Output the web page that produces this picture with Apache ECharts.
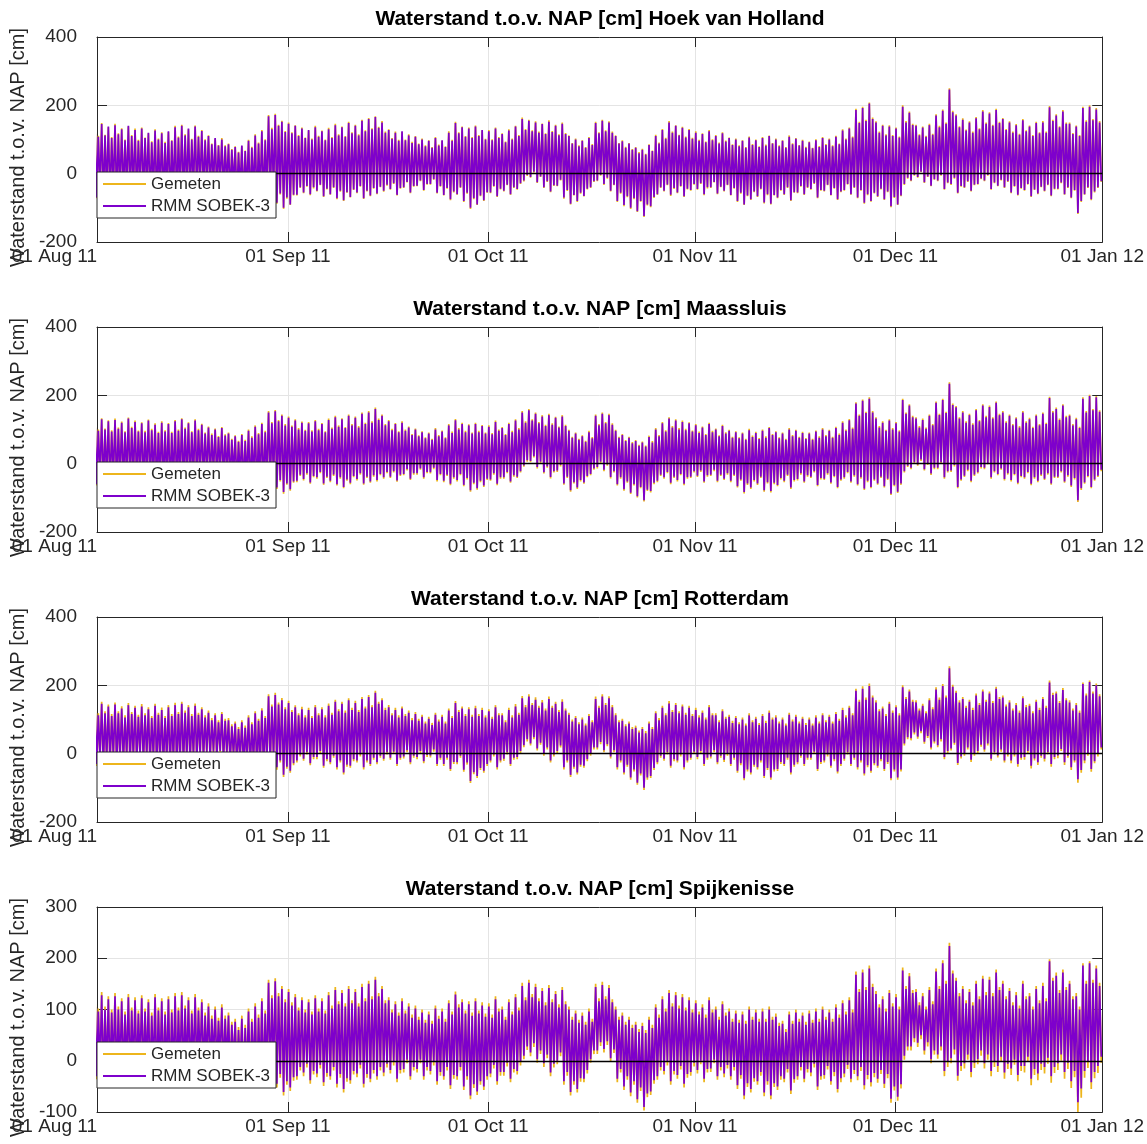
<!DOCTYPE html>
<html>
<head>
<meta charset="utf-8">
<script src="https://cdn.jsdelivr.net/npm/echarts@6/dist/echarts.min.js"></script>
<style>
  html, body { margin: 0; padding: 0; background: #ffffff; }
  #chart { width: 1147px; height: 1144px; }
</style>
</head>
<body>
<div id="chart"></div>
<script>
// Time base: days after 01 Aug 2011 00:00. Each array entry is one day.
// Per day two tides: Hi/Lo = first high and low water, Hi2/Lo2 = second
// high and low water (cm t.o.v. NAP).
const firstDay = 2;
const xStart = 2.4;
const xEnd = 153;
const monthTicks = [31, 61, 92, 122, 153];
const monthLabels = ['01 Sep 11', '01 Oct 11', '01 Nov 11', '01 Dec 11', '01 Jan 12'];
const startLabel = '01 Aug 11';

const stations = ['Hoek van Holland', 'Maassluis', 'Rotterdam', 'Spijkenisse'];
const seriesNames = ['Gemeten', 'RMM SOBEK-3'];

// ---- Hoek van Holland ----
const hvhModHi = [
  140,145,138,142,130,140,128,132,120,126,
  118,124,136,140,132,138,125,110,104,100,
  86,78,82,96,112,124,168,172,152,146,
  140,132,128,136,124,130,142,136,148,140,
  155,160,166,150,128,120,124,112,108,100,
  96,104,98,120,148,136,132,138,128,124,
  132,116,126,138,160,155,150,145,152,140,
  146,110,100,96,104,148,155,150,110,95,
  88,76,70,84,110,128,150,140,134,128,
  120,116,124,110,118,104,100,96,106,98,
  104,110,100,96,108,102,96,92,98,104,
  100,108,126,132,186,192,205,150,140,138,
  132,196,178,140,135,142,170,184,246,170,
  158,150,162,182,176,186,160,150,142,156,
  138,148,150,194,170,182,146,138,192,196,
  188
];
const hvhModLo = [
  -70,-75,-68,-72,-60,-65,-58,-62,-70,-76,
  -72,-80,-74,-68,-62,-55,-50,-48,-45,-52,
  -58,-66,-72,-80,-85,-78,-70,-85,-100,-90,
  -62,-55,-60,-50,-66,-60,-72,-78,-68,-55,
  -72,-64,-58,-50,-45,-62,-40,-55,-35,-48,
  -30,-56,-62,-75,-60,-80,-100,-90,-78,-55,
  -66,-50,-60,-45,-20,-10,-25,-40,-52,-35,
  -70,-88,-80,-65,-40,-20,-30,-50,-80,-92,
  -100,-110,-124,-95,-60,-50,-62,-55,-66,-48,
  -45,-60,-40,-58,-50,-62,-80,-90,-75,-66,
  -84,-88,-70,-60,-78,-55,-60,-45,-70,-50,
  -62,-75,-48,-60,-70,-85,-80,-66,-75,-95,
  -90,-30,-20,-10,-25,-35,-20,-45,-30,-56,
  -40,-50,-30,-20,-45,-35,-40,-55,-62,-48,
  -66,-58,-50,-64,-44,-60,-70,-115,-60,-75,
  -40
];
const hvhModHi2 = [
  108,112,104,115,98,110,96,104,92,100,
  90,96,106,112,100,108,98,86,82,80,
  70,62,66,76,88,98,130,140,122,118,
  110,104,100,108,98,104,112,108,118,112,
  124,130,134,120,102,96,98,90,86,80,
  76,82,78,96,118,108,104,110,100,98,
  104,92,100,110,128,124,120,116,122,112,
  116,88,80,76,84,118,124,120,88,76,
  70,60,56,66,88,102,120,112,106,102,
  96,92,98,88,94,84,80,76,84,78,
  82,88,80,76,86,82,76,74,78,84,
  80,86,100,106,148,154,160,120,112,110,
  106,150,142,112,108,114,136,146,180,136,
  126,120,130,146,140,148,128,120,114,124,
  110,118,120,154,136,146,116,110,152,156,
  150
];
const hvhModLo2 = [
  -48,-52,-45,-50,-40,-44,-38,-42,-48,-54,
  -50,-56,-52,-46,-42,-36,-32,-30,-28,-34,
  -38,-44,-50,-56,-60,-54,-46,-58,-70,-62,
  -40,-36,-40,-32,-44,-40,-50,-54,-46,-36,
  -50,-42,-38,-32,-28,-42,-24,-36,-20,-30,
  -16,-36,-42,-52,-40,-56,-72,-64,-54,-36,
  -44,-32,-40,-28,-4,6,-8,-22,-34,-18,
  -48,-62,-56,-44,-22,-4,-12,-32,-56,-66,
  -72,-80,-90,-68,-40,-32,-42,-36,-44,-30,
  -28,-40,-24,-38,-32,-42,-56,-64,-52,-44,
  -60,-62,-48,-40,-54,-36,-40,-28,-48,-32,
  -42,-52,-30,-40,-48,-60,-56,-44,-52,-68,
  -64,-12,-4,6,-8,-16,-4,-26,-12,-36,
  -22,-32,-14,-4,-26,-18,-22,-36,-42,-30,
  -46,-38,-32,-44,-26,-40,-48,-80,-40,-52,
  -22
];
const hvhObsHi = [
  144,148,136,146,133,138,132,135,118,130,
  121,122,140,143,130,141,128,112,102,104,
  88,80,80,99,115,128,172,175,155,150,
  142,135,126,140,126,134,146,138,152,143,
  158,163,168,154,130,123,122,115,110,103,
  98,107,96,124,152,138,135,141,126,128,
  135,118,130,140,164,158,153,147,156,143,
  150,112,103,98,107,152,158,153,112,98,
  90,78,73,86,114,131,154,142,137,131,
  124,118,128,113,121,106,103,98,109,100,
  107,112,103,98,112,104,99,94,101,107,
  103,111,130,135,190,196,208,153,143,142,
  135,200,182,143,138,146,174,188,250,174,
  162,153,166,186,180,190,163,153,145,160,
  141,152,154,198,174,186,150,141,196,200,
  192
];
const hvhObsLo = [
  -72,-76,-70,-74,-62,-66,-60,-64,-72,-78,
  -74,-82,-76,-70,-64,-57,-52,-50,-47,-54,
  -60,-68,-74,-82,-87,-80,-72,-88,-103,-92,
  -64,-57,-63,-52,-68,-62,-75,-80,-70,-57,
  -74,-66,-60,-53,-47,-64,-42,-57,-37,-50,
  -32,-58,-64,-78,-62,-83,-103,-92,-80,-57,
  -68,-52,-62,-47,-23,-12,-27,-42,-54,-37,
  -73,-90,-83,-67,-42,-22,-33,-52,-83,-95,
  -103,-112,-127,-98,-62,-52,-65,-57,-68,-50,
  -47,-63,-42,-60,-52,-64,-83,-92,-77,-68,
  -87,-90,-72,-62,-80,-57,-62,-47,-72,-52,
  -64,-77,-50,-62,-72,-88,-82,-68,-77,-98,
  -92,-33,-22,-12,-27,-37,-22,-47,-33,-58,
  -42,-52,-32,-22,-47,-37,-42,-57,-64,-50,
  -68,-60,-52,-66,-46,-62,-72,-118,-62,-78,
  -42
];
const hvhObsHi2 = [
  111,114,107,118,100,113,99,106,95,103,
  93,98,109,115,102,111,101,88,84,83,
  72,64,68,79,91,101,134,143,125,121,
  113,106,103,111,100,107,115,110,121,115,
  127,133,137,123,104,99,100,93,88,83,
  78,85,80,99,121,110,107,113,102,101,
  107,94,103,113,131,127,123,118,125,115,
  119,90,83,78,87,121,127,123,90,79,
  72,63,58,68,91,105,123,114,109,105,
  99,94,101,91,97,86,83,78,87,80,
  85,90,83,78,89,84,79,76,81,87,
  83,88,103,109,152,158,164,123,115,113,
  109,154,146,115,111,117,140,150,184,139,
  129,123,133,150,143,152,131,123,117,127,
  113,121,123,158,139,150,119,113,156,160,
  154
];
const hvhObsLo2 = [
  -50,-54,-47,-52,-42,-46,-40,-44,-50,-56,
  -52,-58,-54,-48,-44,-38,-34,-32,-30,-36,
  -40,-46,-52,-58,-62,-56,-48,-61,-73,-64,
  -42,-38,-43,-34,-46,-42,-53,-56,-48,-38,
  -52,-44,-40,-35,-30,-44,-26,-38,-22,-32,
  -18,-38,-44,-55,-42,-59,-75,-66,-56,-38,
  -46,-34,-42,-30,-7,3,-10,-24,-36,-20,
  -51,-64,-59,-46,-24,-6,-15,-34,-59,-69,
  -75,-82,-93,-71,-42,-34,-45,-38,-46,-32,
  -30,-43,-26,-40,-34,-44,-59,-66,-54,-46,
  -63,-64,-50,-42,-56,-38,-42,-30,-50,-34,
  -44,-54,-32,-42,-50,-63,-58,-46,-54,-71,
  -66,-15,-6,4,-10,-18,-6,-28,-15,-38,
  -24,-34,-16,-6,-28,-20,-24,-38,-44,-32,
  -48,-40,-34,-46,-28,-42,-50,-83,-42,-55,
  -24
];

// ---- Maassluis ----
const mslModHi = [
  125,130,124,128,120,132,122,118,126,114,
  120,116,124,130,118,126,114,106,100,104,
  88,80,84,96,108,116,150,153,140,134,
  126,120,118,124,116,128,136,130,140,134,
  146,150,160,140,124,116,120,106,100,92,
  88,100,94,112,127,116,112,116,110,108,
  122,104,116,126,150,156,146,138,142,134,
  138,96,88,80,92,140,146,142,96,84,
  76,66,62,78,100,118,132,126,122,118,
  112,106,116,100,110,96,92,88,98,90,
  96,104,92,88,100,96,90,88,94,100,
  96,104,120,127,176,184,190,132,120,126,
  118,186,170,132,128,140,178,186,234,165,
  150,142,156,170,166,178,150,140,132,150,
  130,140,146,192,160,170,140,130,190,198,
  194
];
const mslModLo = [
  -60,-65,-58,-62,-55,-60,-52,-56,-62,-68,
  -64,-70,-66,-60,-55,-50,-45,-42,-40,-46,
  -52,-58,-64,-70,-75,-68,-62,-70,-83,-75,
  -50,-45,-55,-40,-58,-50,-60,-68,-56,-45,
  -58,-52,-48,-40,-38,-49,-30,-44,-28,-40,
  -25,-48,-50,-59,-48,-62,-78,-72,-64,-46,
  -59,-40,-52,-38,-5,8,-10,-25,-39,-20,
  -58,-78,-70,-55,-30,-10,-18,-39,-60,-75,
  -85,-95,-107,-80,-50,-40,-56,-48,-59,-38,
  -35,-52,-32,-50,-44,-50,-66,-83,-70,-58,
  -78,-80,-62,-50,-70,-45,-52,-38,-62,-44,
  -55,-68,-40,-52,-60,-73,-68,-58,-66,-88,
  -82,-22,-12,-2,-16,-29,-12,-40,-20,-68,
  -35,-50,-25,-12,-40,-30,-45,-48,-56,-40,
  -59,-50,-44,-58,-38,-52,-64,-107,-55,-68,
  -35
];
const mslModHi2 = [
  96,100,94,102,92,104,94,92,98,90,
  94,90,96,102,92,98,88,84,78,82,
  70,64,66,76,86,92,118,124,112,108,
  100,96,94,98,92,102,108,104,112,106,
  116,120,128,112,98,92,96,84,80,74,
  70,80,74,90,100,92,88,92,88,86,
  96,84,92,100,120,126,118,110,114,106,
  110,76,70,64,74,112,118,114,76,66,
  60,52,50,62,80,94,106,100,98,94,
  90,84,92,80,88,76,74,70,78,72,
  76,84,74,70,80,76,72,70,76,80,
  76,84,96,102,140,148,150,106,96,100,
  94,146,136,106,102,112,142,148,172,132,
  120,114,124,136,132,142,120,112,106,120,
  104,112,116,150,128,136,112,104,150,156,
  152
];
const mslModLo2 = [
  -40,-44,-38,-42,-36,-40,-34,-37,-42,-46,
  -44,-48,-45,-40,-36,-32,-28,-25,-24,-28,
  -34,-38,-44,-48,-52,-46,-40,-48,-58,-52,
  -32,-28,-36,-24,-38,-32,-40,-46,-36,-28,
  -38,-34,-30,-24,-22,-32,-16,-28,-14,-24,
  -12,-30,-32,-40,-30,-42,-56,-50,-44,-28,
  -40,-24,-34,-22,10,22,6,-8,-22,-4,
  -38,-54,-48,-36,-14,6,-2,-22,-40,-52,
  -60,-68,-76,-56,-32,-24,-38,-30,-40,-22,
  -20,-34,-18,-32,-28,-32,-46,-58,-48,-38,
  -54,-56,-42,-32,-48,-28,-34,-22,-42,-28,
  -36,-46,-24,-34,-40,-50,-46,-38,-44,-62,
  -58,-6,4,12,0,-12,4,-22,-4,-46,
  -18,-32,-10,2,-22,-14,-28,-30,-36,-24,
  -40,-32,-28,-38,-22,-34,-42,-72,-36,-46,
  -18
];
const mslObsHi = [
  129,133,127,132,123,135,126,121,129,118,
  124,119,128,133,121,130,117,109,103,107,
  91,83,87,100,112,120,154,157,144,138,
  130,123,122,128,119,132,140,133,144,138,
  150,154,164,144,128,119,124,109,103,95,
  91,104,97,116,131,120,115,120,113,112,
  126,107,120,130,154,160,150,142,146,137,
  142,99,91,83,96,144,150,146,99,87,
  79,69,65,82,104,122,136,130,126,121,
  116,109,120,103,114,99,95,91,102,93,
  100,107,95,91,104,99,93,91,97,104,
  99,108,124,131,180,188,194,136,124,130,
  122,190,174,136,132,144,182,190,238,169,
  154,146,160,174,170,182,154,144,136,154,
  134,144,150,196,164,174,144,134,194,202,
  198
];
const mslObsLo = [
  -64,-69,-62,-66,-59,-64,-56,-60,-66,-72,
  -68,-74,-70,-64,-59,-54,-49,-46,-44,-50,
  -56,-62,-68,-74,-79,-72,-66,-74,-88,-79,
  -54,-49,-59,-44,-62,-54,-64,-72,-60,-49,
  -62,-56,-52,-44,-42,-53,-34,-48,-32,-44,
  -29,-52,-54,-63,-52,-66,-82,-76,-68,-50,
  -63,-44,-56,-42,-9,4,-14,-29,-43,-24,
  -62,-82,-74,-59,-34,-14,-22,-43,-64,-79,
  -89,-99,-111,-84,-54,-44,-60,-52,-63,-42,
  -39,-56,-36,-54,-48,-54,-70,-87,-74,-62,
  -82,-84,-66,-54,-74,-49,-56,-42,-66,-48,
  -59,-72,-44,-56,-64,-77,-72,-62,-70,-92,
  -86,-26,-16,-6,-20,-33,-16,-44,-24,-72,
  -39,-54,-29,-16,-44,-34,-49,-52,-60,-44,
  -63,-54,-48,-62,-42,-56,-68,-112,-59,-72,
  -39
];
const mslObsHi2 = [
  100,103,98,106,95,108,97,96,102,93,
  98,93,100,106,95,102,91,88,81,86,
  73,67,70,80,90,96,122,128,116,112,
  104,99,98,102,95,106,112,107,116,110,
  120,124,132,116,102,95,100,87,83,77,
  73,84,77,94,104,96,91,96,91,90,
  100,87,96,104,124,130,122,114,118,109,
  114,79,73,67,78,116,122,118,79,69,
  63,55,53,66,84,98,110,104,102,97,
  94,87,96,83,92,79,77,73,82,75,
  80,87,77,73,84,79,75,73,80,84,
  79,88,100,106,144,152,154,110,99,104,
  98,150,140,110,106,116,146,152,176,136,
  124,118,128,140,136,146,124,116,110,124,
  108,116,120,154,132,140,116,108,154,160,
  156
];
const mslObsLo2 = [
  -44,-48,-42,-46,-40,-44,-38,-41,-46,-50,
  -48,-52,-49,-44,-40,-36,-32,-29,-28,-32,
  -38,-42,-48,-52,-56,-50,-44,-52,-62,-56,
  -36,-32,-40,-28,-42,-36,-44,-50,-40,-32,
  -42,-38,-34,-28,-26,-36,-20,-32,-18,-28,
  -16,-34,-36,-44,-34,-46,-60,-54,-48,-32,
  -44,-28,-38,-26,6,18,2,-12,-26,-8,
  -42,-58,-52,-40,-18,2,-6,-26,-44,-56,
  -64,-72,-80,-60,-36,-28,-42,-34,-44,-26,
  -24,-38,-22,-36,-32,-36,-50,-62,-52,-42,
  -58,-60,-46,-36,-52,-32,-38,-26,-46,-32,
  -40,-50,-28,-38,-44,-54,-50,-42,-48,-66,
  -62,-10,0,8,-4,-16,0,-26,-8,-50,
  -22,-36,-14,-2,-26,-18,-32,-34,-40,-28,
  -44,-36,-32,-42,-26,-38,-46,-77,-40,-50,
  -22
];

// ---- Rotterdam ----
const rtdModHi = [
  140,146,138,144,132,142,134,138,130,140,
  128,136,142,146,136,140,130,120,112,116,
  98,88,92,106,118,126,168,172,156,148,
  136,130,128,136,130,140,152,146,156,148,
  160,166,178,156,136,128,132,120,116,108,
  102,114,108,126,148,132,130,133,128,124,
  136,112,128,138,162,167,158,150,160,146,
  152,114,104,100,110,160,167,162,112,96,
  88,76,72,88,118,134,147,142,138,134,
  128,120,136,112,124,108,104,100,112,102,
  110,120,106,100,114,108,102,100,106,112,
  108,116,128,134,184,190,198,150,132,146,
  136,194,182,150,140,156,188,198,250,178,
  160,152,170,182,176,190,164,150,142,162,
  140,152,160,208,176,186,150,142,204,210,
  200
];
const rtdModLo = [
  -30,-35,-28,-32,-25,-30,-22,-26,-32,-38,
  -34,-40,-36,-30,-25,-20,-15,-12,-10,-16,
  -22,-28,-34,-40,-45,-38,-32,-40,-62,-50,
  -20,-15,-28,-10,-35,-25,-40,-55,-35,-20,
  -40,-30,-25,-15,-12,-30,-8,-25,-10,-22,
  -5,-30,-30,-45,-25,-47,-80,-65,-50,-20,
  -40,-15,-30,-10,25,30,15,0,-20,8,
  -40,-62,-55,-35,0,18,10,-8,-40,-55,
  -70,-85,-100,-65,-25,-15,-35,-20,-40,-12,
  -10,-30,-8,-25,-18,-30,-50,-72,-55,-40,
  -65,-70,-45,-30,-55,-25,-30,-12,-45,-20,
  -35,-52,-15,-30,-40,-58,-50,-35,-45,-72,
  -70,30,45,50,35,18,25,-10,15,-27,
  0,-18,8,12,-15,-5,-20,-20,-30,-10,
  -35,-25,-15,-30,-5,-25,-40,-75,-20,-45,
  0
];
const rtdModHi2 = [
  112,118,110,118,106,116,108,112,104,114,
  104,110,116,120,110,114,106,98,92,96,
  80,72,76,86,96,104,138,144,130,122,
  112,106,104,112,106,114,124,120,128,122,
  132,136,146,128,112,106,110,98,96,88,
  84,94,88,104,122,110,108,110,106,102,
  112,92,106,114,136,142,134,126,134,122,
  126,94,86,82,92,134,142,136,92,80,
  72,62,60,72,98,112,122,118,114,110,
  106,100,112,92,102,90,86,82,92,84,
  90,100,88,82,94,88,84,82,88,92,
  88,96,106,112,152,158,164,124,110,120,
  112,160,152,126,118,130,158,164,196,150,
  134,128,142,152,148,160,138,126,120,136,
  118,128,134,172,148,156,126,120,170,176,
  168
];
const rtdModLo2 = [
  -12,-16,-10,-14,-8,-12,-4,-8,-14,-18,
  -16,-20,-18,-12,-8,-2,4,6,8,2,
  -4,-10,-16,-20,-24,-18,-12,-20,-38,-28,
  -2,4,-10,8,-16,-6,-20,-32,-16,-2,
  -20,-12,-6,4,6,-12,10,-6,8,-4,
  12,-12,-12,-24,-6,-26,-54,-42,-30,-2,
  -20,4,-12,8,42,48,32,18,-2,24,
  -20,-38,-32,-16,18,34,28,10,-20,-32,
  -46,-58,-70,-42,-6,4,-16,-2,-20,6,
  8,-12,10,-6,0,-12,-28,-46,-32,-20,
  -42,-46,-24,-12,-32,-6,-12,6,-24,-2,
  -16,-30,4,-12,-20,-34,-28,-16,-24,-46,
  -46,48,62,66,52,36,42,8,32,-8,
  18,0,26,30,4,12,-2,-2,-12,8,
  -14,-6,4,-10,14,-6,-20,-48,0,-22,
  18
];
const rtdObsHi = [
  147,152,144,150,139,148,140,145,136,146,
  135,142,149,152,142,147,136,126,118,122,
  104,94,98,112,124,133,174,178,163,155,
  142,137,134,142,136,147,158,152,162,155,
  166,172,184,162,142,134,138,126,122,114,
  108,120,114,132,154,138,136,140,134,130,
  142,118,134,145,169,174,165,157,167,152,
  159,120,110,106,116,167,174,168,118,102,
  94,82,78,94,124,140,154,148,144,140,
  134,126,142,118,130,114,110,106,118,108,
  116,126,112,106,120,114,108,106,112,118,
  114,122,134,140,190,197,205,156,138,152,
  142,200,188,156,146,162,194,204,256,184,
  166,158,176,188,182,196,170,156,148,168,
  146,158,166,214,182,192,156,148,208,214,
  205
];
const rtdObsLo = [
  -36,-41,-34,-38,-31,-36,-28,-32,-38,-44,
  -40,-46,-42,-36,-31,-26,-21,-18,-16,-22,
  -28,-34,-40,-46,-51,-44,-38,-47,-68,-56,
  -26,-21,-34,-16,-41,-31,-46,-61,-41,-26,
  -46,-36,-31,-21,-18,-36,-14,-31,-16,-28,
  -11,-36,-36,-51,-31,-53,-86,-71,-56,-26,
  -46,-21,-36,-16,19,24,9,-6,-26,2,
  -46,-68,-61,-41,-6,12,4,-14,-46,-61,
  -76,-91,-106,-71,-31,-21,-41,-26,-46,-18,
  -16,-36,-14,-31,-24,-36,-56,-78,-61,-46,
  -71,-76,-51,-36,-61,-31,-36,-18,-51,-26,
  -41,-58,-21,-36,-46,-64,-56,-41,-51,-78,
  -76,24,39,44,29,12,19,-16,9,-33,
  -6,-24,2,6,-21,-11,-26,-28,-38,-18,
  -43,-33,-23,-38,-13,-33,-48,-85,-28,-53,
  -8
];
const rtdObsHi2 = [
  118,124,116,124,112,122,114,118,110,120,
  110,116,122,126,116,120,112,104,98,102,
  86,78,82,92,102,110,144,150,136,128,
  118,112,110,118,112,120,130,126,134,128,
  138,142,152,134,118,112,116,104,102,94,
  90,100,94,110,128,116,114,116,112,108,
  118,98,112,120,142,148,140,132,140,128,
  132,100,92,88,98,140,148,142,98,86,
  78,68,66,78,104,118,128,124,120,116,
  112,106,118,98,108,96,92,88,98,90,
  96,106,94,88,100,94,90,88,94,98,
  94,102,112,118,158,164,170,130,116,126,
  118,166,158,132,124,136,164,170,202,156,
  140,134,148,158,154,166,144,132,126,142,
  124,134,140,178,154,162,132,126,176,182,
  174
];
const rtdObsLo2 = [
  -18,-22,-16,-20,-14,-18,-10,-14,-20,-24,
  -22,-26,-24,-18,-14,-8,-2,0,2,-4,
  -10,-16,-22,-26,-30,-24,-18,-26,-44,-34,
  -8,-2,-16,2,-22,-12,-26,-38,-22,-8,
  -26,-18,-12,-2,0,-18,4,-12,2,-10,
  6,-18,-18,-30,-12,-32,-60,-48,-36,-8,
  -26,-2,-18,2,36,42,26,12,-8,18,
  -26,-44,-38,-22,12,28,22,4,-26,-38,
  -52,-64,-76,-48,-12,-2,-22,-8,-26,0,
  2,-18,4,-12,-6,-18,-34,-52,-38,-26,
  -48,-52,-30,-18,-38,-12,-18,0,-30,-8,
  -22,-36,-2,-18,-26,-40,-34,-22,-30,-52,
  -52,42,56,60,46,30,36,2,26,-14,
  12,-6,20,24,-2,6,-8,-8,-18,2,
  -20,-12,-2,-16,8,-12,-26,-56,-6,-28,
  12
];

// ---- Spijkenisse ----
const spkModHi = [
  122,128,120,126,116,124,118,122,114,124,
  116,120,126,128,118,124,114,106,100,104,
  88,76,82,96,106,116,152,155,140,134,
  124,118,114,122,116,128,138,132,140,134,
  144,150,158,140,118,110,116,106,102,94,
  90,102,96,112,129,114,110,116,108,106,
  120,100,114,124,146,152,144,136,142,130,
  138,100,92,88,96,144,148,142,100,88,
  80,70,68,80,104,120,132,128,124,118,
  112,104,118,100,110,96,92,90,100,94,
  96,100,86,72,90,94,88,92,96,100,
  94,104,112,118,168,172,180,130,120,132,
  124,176,165,134,126,138,174,190,224,156,
  140,134,150,160,158,172,150,136,128,150,
  126,140,146,194,166,172,150,126,186,190,
  180
];
const spkModLo = [
  -30,-35,-28,-32,-25,-30,-22,-26,-32,-38,
  -34,-42,-36,-30,-25,-20,-15,-12,-10,-16,
  -22,-28,-34,-40,-46,-40,-34,-45,-61,-52,
  -30,-23,-38,-25,-42,-30,-45,-55,-38,-25,
  -45,-35,-30,-23,-18,-35,-16,-30,-16,-30,
  -20,-40,-30,-48,-30,-50,-68,-60,-50,-25,
  -40,-22,-35,-20,10,16,3,-5,-23,0,
  -40,-61,-55,-35,3,20,23,5,-35,-50,
  -62,-75,-90,-60,-30,-20,-40,-28,-45,-22,
  -18,-35,-15,-30,-25,-30,-48,-68,-55,-40,
  -62,-68,-50,-35,-58,-30,-35,-23,-50,-28,
  -40,-55,-25,-35,-30,-48,-42,-35,-45,-74,
  -70,10,28,35,20,3,12,-20,5,-29,
  -5,-22,3,-5,-20,-10,-23,-15,-28,-10,
  -35,-25,-12,-30,-5,-22,-40,-81,-20,-42,
  -10
];
const spkModHi2 = [
  96,100,94,100,90,98,92,96,88,98,
  90,94,98,102,92,98,88,82,78,82,
  70,60,64,76,84,92,122,126,114,108,
  98,94,90,96,92,102,110,106,112,106,
  116,120,126,112,94,88,92,84,80,74,
  72,82,76,90,104,92,88,92,86,84,
  96,80,90,98,118,124,116,108,114,104,
  110,80,74,70,76,116,120,114,80,70,
  64,56,54,64,84,96,106,102,98,94,
  90,84,94,80,88,76,74,72,80,76,
  76,80,68,56,72,76,70,74,76,80,
  76,84,90,94,134,138,144,104,96,106,
  100,140,132,108,100,110,140,150,170,126,
  112,108,120,128,126,138,120,108,102,120,
  100,112,116,156,132,138,120,100,150,152,
  146
];
const spkModLo2 = [
  -14,-18,-12,-16,-10,-14,-6,-10,-16,-20,
  -18,-24,-20,-14,-10,-4,2,4,6,0,
  -6,-12,-18,-22,-28,-22,-16,-26,-40,-32,
  -12,-6,-20,-8,-24,-12,-26,-34,-20,-8,
  -26,-18,-12,-6,-2,-18,2,-12,2,-12,
  -2,-22,-12,-28,-12,-30,-46,-40,-30,-8,
  -22,-4,-16,-2,28,34,20,12,-6,16,
  -22,-40,-34,-18,20,36,38,22,-16,-30,
  -40,-52,-64,-38,-12,-2,-20,-10,-26,-4,
  0,-16,2,-12,-8,-12,-28,-44,-34,-22,
  -40,-44,-30,-16,-36,-12,-16,-6,-30,-10,
  -22,-34,-8,-18,-12,-28,-24,-18,-26,-50,
  -46,28,44,50,36,20,28,-2,22,-10,
  12,-4,20,12,-2,8,-6,2,-10,8,
  -16,-6,6,-12,12,-4,-20,-54,-2,-22,
  8
];
const spkObsHi = [
  128,134,126,132,122,130,124,128,120,130,
  122,126,132,134,124,130,120,112,106,110,
  94,82,88,102,112,122,158,161,146,140,
  130,124,120,128,122,134,144,138,146,140,
  150,156,164,146,124,116,122,112,108,100,
  96,108,102,118,135,120,116,122,114,112,
  126,106,120,130,152,158,150,142,148,136,
  144,106,98,94,102,150,154,148,106,94,
  86,76,74,86,110,126,138,134,130,124,
  118,110,124,106,116,102,98,96,106,100,
  102,106,92,78,96,100,94,98,102,106,
  100,110,118,124,174,178,186,136,126,138,
  130,182,171,140,132,144,180,196,230,162,
  146,140,156,166,164,178,156,142,134,156,
  132,146,152,198,172,178,156,132,190,194,
  186
];
const spkObsLo = [
  -36,-41,-34,-38,-31,-36,-28,-32,-38,-44,
  -40,-48,-42,-36,-31,-26,-21,-18,-16,-22,
  -28,-34,-40,-46,-52,-46,-40,-52,-68,-59,
  -37,-30,-45,-32,-49,-37,-52,-62,-45,-32,
  -52,-42,-37,-30,-25,-42,-23,-37,-23,-37,
  -27,-47,-37,-55,-37,-57,-75,-67,-57,-32,
  -47,-29,-42,-27,3,9,-4,-12,-30,-7,
  -47,-68,-62,-42,-4,13,16,-2,-42,-57,
  -69,-82,-97,-67,-37,-27,-47,-35,-52,-29,
  -25,-42,-22,-37,-32,-37,-55,-75,-62,-47,
  -69,-75,-57,-42,-65,-37,-42,-30,-57,-35,
  -47,-62,-32,-42,-38,-56,-50,-43,-53,-82,
  -78,2,20,27,12,-5,4,-30,-5,-39,
  -15,-32,-7,-15,-30,-22,-35,-28,-40,-23,
  -48,-38,-25,-43,-18,-35,-53,-100,-33,-55,
  -24
];
const spkObsHi2 = [
  102,106,100,106,96,104,98,102,94,104,
  96,100,104,108,98,104,94,88,84,88,
  76,66,70,82,90,98,128,132,120,114,
  104,100,96,102,98,108,116,112,118,112,
  122,126,132,118,100,94,98,90,86,80,
  78,88,82,96,110,98,94,98,92,90,
  102,86,96,104,124,130,122,114,120,110,
  116,86,80,76,82,122,126,120,86,76,
  70,62,60,70,90,102,112,108,104,100,
  96,90,100,86,94,82,80,78,86,82,
  82,86,74,62,78,82,76,80,82,86,
  82,90,96,100,140,144,150,110,102,112,
  106,146,138,114,106,116,146,156,176,132,
  118,114,126,134,132,144,126,114,108,126,
  106,118,122,162,138,144,126,106,156,158,
  152
];
const spkObsLo2 = [
  -20,-24,-18,-22,-16,-20,-12,-16,-22,-26,
  -24,-30,-26,-20,-16,-10,-4,-2,0,-6,
  -12,-18,-24,-28,-34,-28,-22,-33,-47,-39,
  -19,-13,-27,-15,-31,-19,-33,-41,-27,-15,
  -33,-25,-19,-13,-9,-25,-5,-19,-5,-19,
  -9,-29,-19,-35,-19,-37,-53,-47,-37,-15,
  -29,-11,-23,-9,21,27,13,5,-13,9,
  -29,-47,-41,-25,13,29,31,15,-23,-37,
  -47,-59,-71,-45,-19,-9,-27,-17,-33,-11,
  -7,-23,-5,-19,-15,-19,-35,-51,-41,-29,
  -47,-51,-37,-23,-43,-19,-23,-13,-37,-17,
  -30,-42,-16,-26,-20,-36,-32,-26,-34,-58,
  -54,20,36,42,28,12,20,-12,12,-20,
  2,-14,10,2,-12,-2,-16,-8,-20,-2,
  -28,-18,-6,-24,0,-16,-32,-72,-14,-34,
  -4
];

// y-axis tick values per panel
const yTicksTop = [-200, 0, 200, 400];
const yTicksSpijkenisse = [-100, 0, 100, 200, 300];

const panels = [
  { station: stations[0], obs: [hvhObsHi, hvhObsLo, hvhObsHi2, hvhObsLo2], mod: [hvhModHi, hvhModLo, hvhModHi2, hvhModLo2], ticks: yTicksTop },
  { station: stations[1], obs: [mslObsHi, mslObsLo, mslObsHi2, mslObsLo2], mod: [mslModHi, mslModLo, mslModHi2, mslModLo2], ticks: yTicksTop },
  { station: stations[2], obs: [rtdObsHi, rtdObsLo, rtdObsHi2, rtdObsLo2], mod: [rtdModHi, rtdModLo, rtdModHi2, rtdModLo2], ticks: yTicksTop },
  { station: stations[3], obs: [spkObsHi, spkObsLo, spkObsHi2, spkObsLo2], mod: [spkModHi, spkModLo, spkModHi2, spkModLo2], ticks: yTicksSpijkenisse }
];

// two tides per day: high, low, high, low
const tidePhase = [0.1, 0.35, 0.6, 0.85];
function tide(arrs) {
  const pts = [];
  const n = Math.min.apply(null, arrs.map(a => a.length));
  for (let i = 0; i < n; i++) {
    for (let j = 0; j < 4; j++) pts.push([firstDay + i + tidePhase[j], arrs[j][i]]);
  }
  return pts;
}

const FONT = 'Liberation Sans, Arial, Helvetica, sans-serif';
const INK = '#262626';
const GRID = '#e4e4e4';
const YELLOW = '#EDB51C';
const PURPLE = '#7E00CC';
const xTickVals = [xStart].concat(monthTicks);

function xLabel(v) {
  if (Math.abs(v - xStart) < 1e-6) return startLabel;
  const i = monthTicks.findIndex(t => Math.abs(t - v) < 1e-6);
  return i >= 0 ? monthLabels[i] : '';
}

const grid = [], xAxis = [], yAxis = [], series = [], title = [], legend = [];
const top0 = 37, step = 290, plotH = 205;

panels.forEach((p, k) => {
  const top = top0 + step * k;
  grid.push({ left: 97, right: 44, top: top, height: plotH, show: false, containLabel: false });

  const tmin = p.ticks[0], tmax = p.ticks[p.ticks.length - 1];
  const tint = p.ticks[1] - p.ticks[0];

  // bottom axis with date labels
  xAxis.push({
    gridIndex: k, type: 'value', position: 'bottom', min: xStart, max: xEnd,
    axisLine: { show: true, onZero: false, lineStyle: { color: INK, width: 1 } },
    axisTick: { show: true, inside: true, length: 10, customValues: xTickVals, lineStyle: { color: INK } },
    axisLabel: { show: true, customValues: xTickVals, formatter: xLabel, color: INK, fontSize: 19,
                 fontFamily: FONT, margin: 5, alignMinLabel: 'right', alignMaxLabel: 'center' },
    splitLine: { show: true, lineStyle: { color: GRID, width: 1 } }
  });
  // top box edge with ticks
  xAxis.push({
    gridIndex: k, type: 'value', position: 'top', min: xStart, max: xEnd,
    axisLine: { show: true, onZero: false, lineStyle: { color: INK, width: 1 } },
    axisTick: { show: true, inside: true, length: 10, customValues: monthTicks, lineStyle: { color: INK } },
    axisLabel: { show: false },
    splitLine: { show: false }
  });
  // left axis with values
  yAxis.push({
    gridIndex: k, type: 'value', position: 'left', min: tmin, max: tmax, interval: tint,
    name: 'Waterstand t.o.v. NAP [cm]', nameLocation: 'middle', nameGap: 66,
    nameTextStyle: { fontSize: 20, color: INK, fontFamily: FONT, padding: [0, 16, 0, 0] },
    axisLine: { show: true, onZero: false, lineStyle: { color: INK, width: 1 } },
    axisTick: { show: true, inside: true, length: 10, lineStyle: { color: INK } },
    axisLabel: { color: INK, fontSize: 19, fontFamily: FONT, margin: 20 },
    splitLine: { show: true, lineStyle: { color: GRID, width: 1 } }
  });
  // right box edge with ticks
  yAxis.push({
    gridIndex: k, type: 'value', position: 'right', min: tmin, max: tmax, interval: tint,
    axisLine: { show: true, onZero: false, lineStyle: { color: INK, width: 1 } },
    axisTick: { show: true, inside: true, length: 10, lineStyle: { color: INK } },
    axisLabel: { show: false },
    splitLine: { show: false }
  });

  series.push({
    name: seriesNames[0], type: 'line', xAxisIndex: 2 * k, yAxisIndex: 2 * k,
    data: tide(p.obs), symbol: 'none', showSymbol: false, silent: true,
    lineStyle: { color: YELLOW, width: 1.7 }, itemStyle: { color: YELLOW },
    emphasis: { disabled: true }, z: 2
  });
  series.push({
    name: seriesNames[1], type: 'line', xAxisIndex: 2 * k, yAxisIndex: 2 * k,
    data: tide(p.mod), symbol: 'none', showSymbol: false, silent: true,
    lineStyle: { color: PURPLE, width: 1.7 }, itemStyle: { color: PURPLE },
    emphasis: { disabled: true }, z: 3,
    markLine: {
      silent: true, symbol: 'none', label: { show: false }, animation: false,
      lineStyle: { color: '#000000', width: 1.3, type: 'solid' },
      emphasis: { disabled: true },
      data: [{ yAxis: 0 }]
    }
  });

  title.push({
    text: 'Waterstand t.o.v. NAP [cm] ' + p.station,
    left: 600, textAlign: 'center', top: 9 + step * k, padding: 0,
    textStyle: { fontSize: 21, fontWeight: 'bold', color: '#000000', fontFamily: FONT }
  });

  legend.push({
    data: seriesNames, orient: 'vertical', left: 97, top: top + 135,
    icon: 'rect', itemWidth: 43, itemHeight: 2, itemGap: 2,
    padding: [2, 6, 2, 6], backgroundColor: '#ffffff',
    borderColor: INK, borderWidth: 1, borderRadius: 0,
    selectedMode: false, z: 20,
    textStyle: { fontSize: 17, color: INK, fontFamily: FONT, lineHeight: 20 }
  });
});

const chart = echarts.init(document.getElementById('chart'), null, { renderer: 'canvas' });
chart.setOption({
  animation: false,
  backgroundColor: '#ffffff',
  textStyle: { fontFamily: FONT },
  title: title,
  legend: legend,
  grid: grid,
  xAxis: xAxis,
  yAxis: yAxis,
  series: series
});
</script>
</body>
</html>
